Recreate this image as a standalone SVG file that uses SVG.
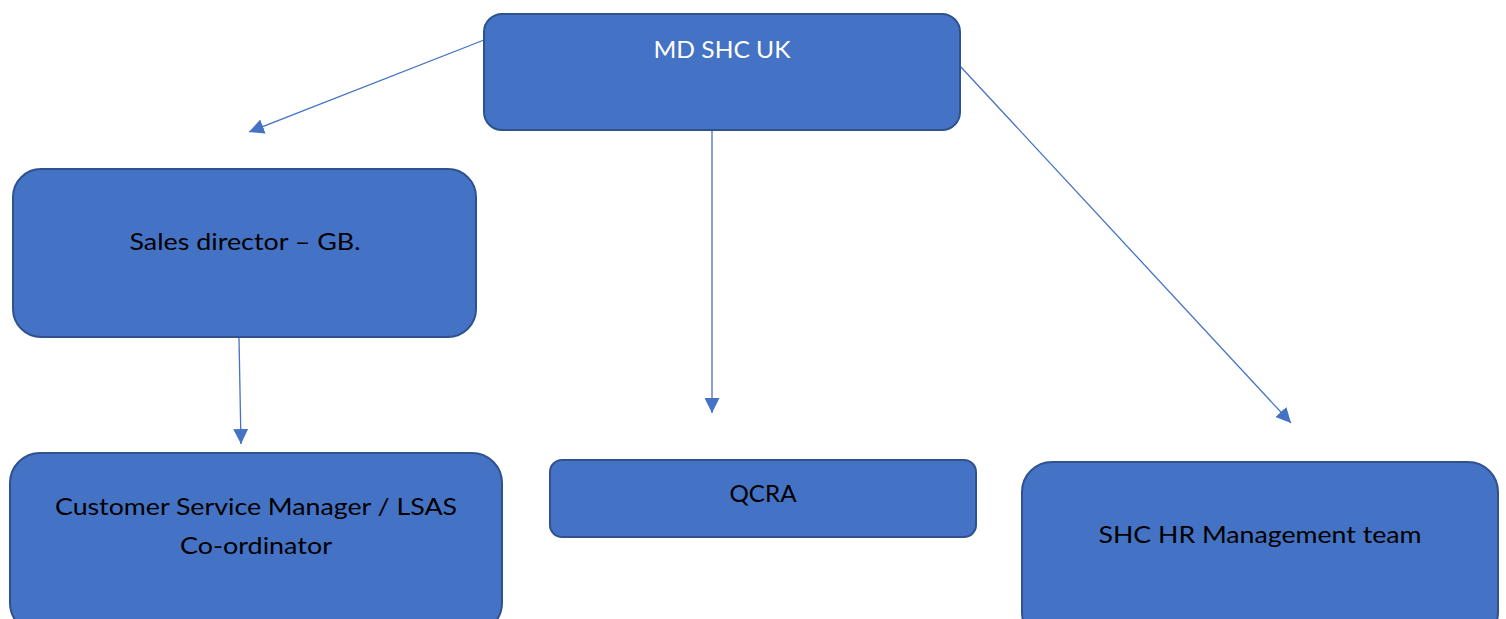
<svg xmlns="http://www.w3.org/2000/svg" width="1506" height="619" viewBox="0 0 1506 619">
<style>
.box{fill:#4472C4;stroke:#2F528F;stroke-width:2}
.lbl{font-family:Lato,"Open Sans","Liberation Sans",sans-serif;font-size:24px;text-anchor:middle;fill:#000}
.conn{stroke:#4472C4;stroke-width:1.3;fill:none;marker-end:url(#arr)}
</style>
<defs>
<marker id="arr" viewBox="0 0 10 10" refX="10" refY="5" markerWidth="15" markerHeight="15" markerUnits="userSpaceOnUse" orient="auto">
<path d="M0,0 L10,5 L0,10 Z" fill="#4472C4"/>
</marker>
</defs>
<rect width="1506" height="619" fill="#fff"/>
<g id="connectors">
<line class="conn" x1="484" y1="40" x2="249" y2="132"/>
<line class="conn" x1="712" y1="131" x2="712" y2="413"/>
<line class="conn" x1="960" y1="66" x2="1291" y2="423"/>
<line class="conn" x1="239" y1="338" x2="241" y2="444"/>
</g>
<g id="md">
<rect class="box" x="484" y="14" width="476" height="116" rx="18"/>
<text class="lbl" x="722" y="58" style="fill:#fff" textLength="137" lengthAdjust="spacingAndGlyphs">MD SHC UK</text>
</g>
<g id="sales">
<rect class="box" x="13" y="169" width="463" height="168" rx="28"/>
<text class="lbl" x="245" y="250" textLength="231" lengthAdjust="spacingAndGlyphs">Sales director – GB.</text>
</g>
<g id="csm">
<rect class="box" x="10" y="453" width="492" height="180" rx="30"/>
<text class="lbl" x="256" y="515" textLength="402" lengthAdjust="spacingAndGlyphs">Customer Service Manager / LSAS</text>
<text class="lbl" x="256" y="554" textLength="152" lengthAdjust="spacingAndGlyphs">Co-ordinator</text>
</g>
<g id="qcra">
<rect class="box" x="550" y="460" width="426" height="77" rx="12"/>
<text class="lbl" x="763" y="502" textLength="67" lengthAdjust="spacingAndGlyphs">QCRA</text>
</g>
<g id="hr">
<rect class="box" x="1022" y="462" width="476" height="180" rx="30"/>
<text class="lbl" x="1260" y="543" textLength="323" lengthAdjust="spacingAndGlyphs">SHC HR Management team</text>
</g>
</svg>
